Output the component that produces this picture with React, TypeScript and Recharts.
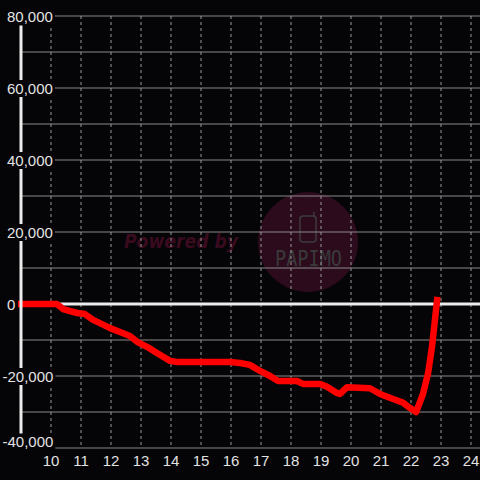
import { LineChart, Line, XAxis, YAxis, CartesianGrid, ReferenceLine } from "recharts";

const BG = "#050407";

// hour of day vs. running balance
const hours = [
  9, 10.2, 10.4, 10.87, 11.13, 11.4, 11.63, 11.97, 12.3, 12.63, 12.87, 13.2,
  13.53, 13.97, 14.2, 15.97, 16.3, 16.63, 16.97, 17.3, 17.57, 18.2, 18.4,
  18.97, 19.2, 19.53, 19.63, 19.87, 20.63, 20.97, 21.4, 21.73, 21.97, 22.17,
  22.4, 22.57, 22.7, 22.87,
];
const balance = [
  0, 0, -1400, -2500, -2800, -4400, -5300, -6700, -7800, -8900, -10500,
  -11900, -13600, -15800, -16100, -16100, -16400, -16900, -18600, -20000,
  -21400, -21400, -22200, -22200, -23000, -24700, -25000, -23100, -23400,
  -25000, -26400, -27400, -28900, -30000, -25000, -19200, -11900, 1100,
];

const xTicks = [10, 11, 12, 13, 14, 15, 16, 17, 18, 19, 20, 21, 22, 23, 24];
const yTicks = [-40000, -20000, 0, 20000, 40000, 60000, 80000];
const yGrid = [-40000, -30000, -20000, -10000, 10000, 20000, 30000, 40000, 50000, 60000, 70000, 80000];

const data = hours.map((h, i) => ({ h, v: balance[i] }));

const FONT = "'Liberation Sans', Arial, sans-serif";

function textWidth(s: string) {
  let w = 0;
  for (const c of s) {
    if (c === ",") w += 4.17;
    else if (c === "-") w += 5;
    else w += 8.34;
  }
  return w;
}

function YTick(props: any) {
  const { y, payload } = props;
  const v = Number(payload.value);
  const label = v.toLocaleString("en-US");
  const w = textWidth(label);
  const left = v < 0 ? 2.5 : 7;
  // edge labels are nudged inside the plot
  const cy = v === yTicks[0] ? y - 6 : v === yTicks[yTicks.length - 1] ? y + 1 : y + 0.5;
  return (
    <g>
      <rect x={left - 1} y={cy - 8.5} width={w + 3} height={17} fill={BG} />
      <text x={left} y={cy + 5.3} textAnchor="start" fill="#e2e2e2" fontSize={15} fontFamily={FONT}>
        {label}
      </text>
    </g>
  );
}

function Watermark() {
  return (
    <svg width={480} height={480} style={{ position: "absolute", left: 0, top: 0 }}>
      <text
        x={124}
        y={248}
        fill="#3a0b1f"
        fontSize={19}
        fontWeight="bold"
        fontStyle="italic"
        fontFamily="'DejaVu Sans', sans-serif"
        textLength={114}
        lengthAdjust="spacingAndGlyphs"
      >
        Powered by
      </text>
      <circle cx={308} cy={242} r={50} fill="#2c0b1d" />
      <rect x={300} y={216} width={16} height={26} rx={3} fill="none" stroke="#3c3c3c" strokeWidth={1.5} />
      <line x1={314} y1={216} x2={314} y2={212} stroke="#3c3c3c" strokeWidth={1.5} />
      <text
        x={275}
        y={266}
        fill="#3a3a3a"
        fontSize={22}
        fontFamily="'DejaVu Sans Mono', monospace"
        textLength={67}
        lengthAdjust="spacingAndGlyphs"
      >
        PAPIMO
      </text>
    </svg>
  );
}

export default function App() {
  return (
    <div
      style={{
        position: "fixed",
        left: 0,
        top: 0,
        width: 480,
        height: 480,
        background: BG,
        overflow: "hidden",
      }}
    >
      <Watermark />
      <div style={{ position: "absolute", left: 0, top: 0 }}>
        <LineChart width={480} height={480} data={data} margin={{ top: 16, right: 0, left: 0, bottom: 0 }}>
          <CartesianGrid vertical={false} horizontalValues={yGrid} stroke="#8a8a8a" />
          <CartesianGrid horizontal={false} verticalValues={xTicks} stroke="#9a9a9a" strokeDasharray="3 3" />
          <XAxis
            dataKey="h"
            type="number"
            domain={[9, 24.3]}
            ticks={xTicks}
            height={32}
            axisLine={false}
            tickLine={false}
            tickSize={0}
            tickMargin={7}
            interval={0}
            tick={{ fill: "#e2e2e2", fontSize: 15, fontFamily: FONT }}
          />
          <YAxis
            type="number"
            domain={[-40000, 80000]}
            ticks={yTicks}
            width={21}
            interval={0}
            axisLine={{ stroke: "#ececec", strokeWidth: 3 }}
            tickLine={false}
            tick={<YTick />}
          />
          <ReferenceLine y={0} stroke="#ececec" strokeWidth={3} />
          <Line
            dataKey="v"
            type="linear"
            stroke="#ff0000"
            strokeWidth={6.5}
            dot={false}
            strokeLinejoin="round"
            strokeLinecap="square"
            isAnimationActive={false}
          />
        </LineChart>
      </div>
    </div>
  );
}
